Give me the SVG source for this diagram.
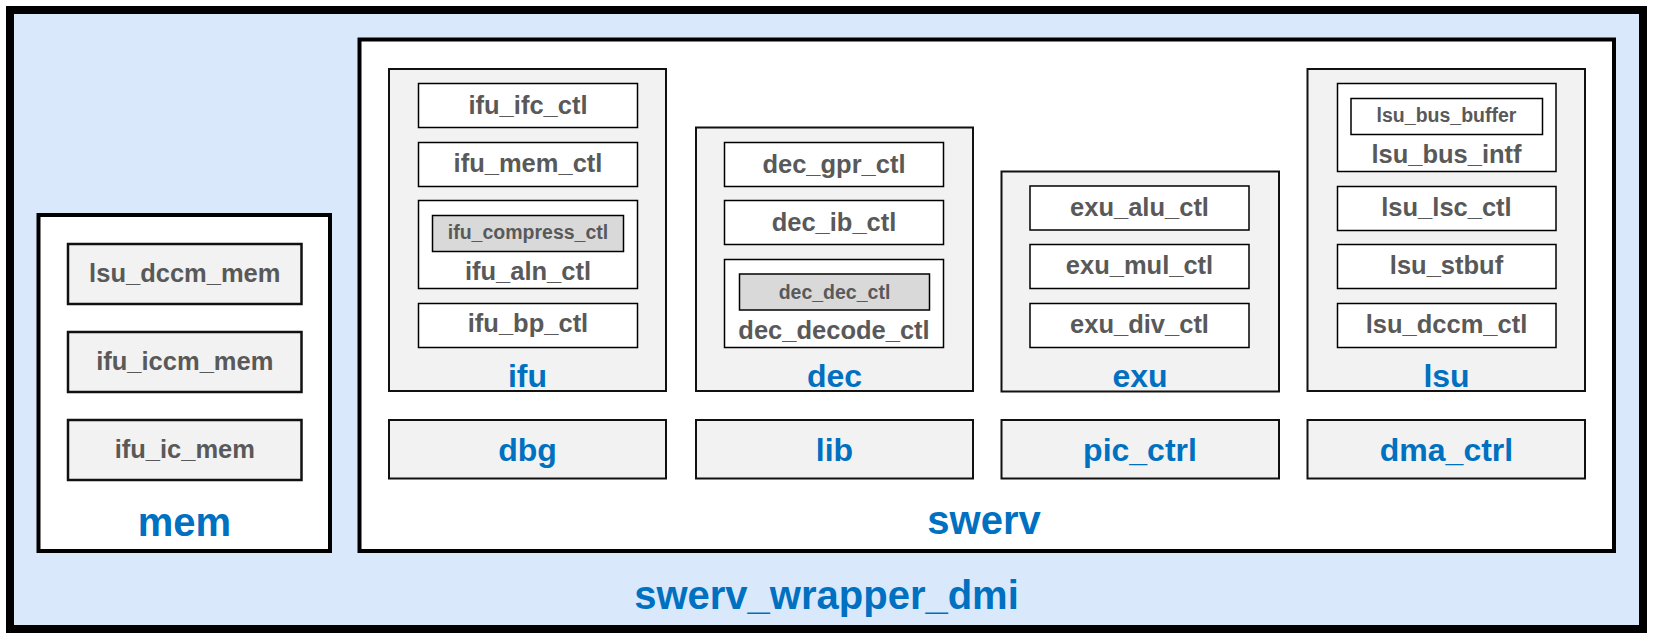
<svg xmlns="http://www.w3.org/2000/svg" width="1653" height="636" viewBox="0 0 1653 636">
<style>
.outer{fill:#dae8fc;stroke:#000;stroke-width:8}
.big{fill:#fff;stroke:#000;stroke-width:4}
.unit{fill:#f2f2f2;stroke:#111;stroke-width:2}
.mod{fill:#fff;stroke:#000;stroke-width:1.5}
.memmod{fill:#f2f2f2;stroke:#111;stroke-width:2.5}
.sub{fill:#d9d9d9;stroke:#000;stroke-width:1.5}
.subw{fill:#fff;stroke:#000;stroke-width:1.5}
text{font-family:"Liberation Sans",Arial,sans-serif;font-weight:bold;text-anchor:middle}
.t{fill:#595959;font-size:25.5px}
.ts{fill:#595959;font-size:19.5px}
.lb{fill:#0070c0;font-size:32px}
.lbb{fill:#0070c0;font-size:40px}
</style>
<g id="swerv_wrapper_dmi">
<rect class="outer" x="10" y="10" width="1633" height="619"/>
<text class="lbb" x="826.5" y="609">swerv_wrapper_dmi</text>
</g>
<g id="mem">
<rect class="big" x="38.5" y="215" width="291.5" height="336"/>
<text class="lbb" x="184.5" y="536">mem</text>
</g>
<g id="lsu_dccm_mem"><rect class="memmod" x="68" y="244" width="233.5" height="60"/><text class="t" x="184.8" y="282">lsu_dccm_mem</text></g>
<g id="ifu_iccm_mem"><rect class="memmod" x="68" y="332" width="233.5" height="60"/><text class="t" x="184.8" y="370">ifu_iccm_mem</text></g>
<g id="ifu_ic_mem"><rect class="memmod" x="68" y="420" width="233.5" height="60"/><text class="t" x="184.8" y="458">ifu_ic_mem</text></g>
<g id="swerv">
<rect class="big" x="359.5" y="39.5" width="1254.5" height="511.5"/>
<text class="lbb" x="984" y="534">swerv</text>
</g>
<g id="ifu">
<rect class="unit" x="389" y="69" width="277" height="322"/>
<text class="lb" x="527.5" y="386.5">ifu</text>
</g>
<g id="ifu_ifc_ctl"><rect class="mod" x="418.5" y="83.5" width="219" height="44"/><text class="t" x="528" y="113.5">ifu_ifc_ctl</text></g>
<g id="ifu_mem_ctl"><rect class="mod" x="418.5" y="142.5" width="219" height="44"/><text class="t" x="528" y="172">ifu_mem_ctl</text></g>
<g id="ifu_aln_ctl"><rect class="mod" x="418.5" y="200.5" width="219" height="88"/><text class="t" x="528" y="280">ifu_aln_ctl</text></g>
<g id="ifu_compress_ctl"><rect class="sub" x="432.5" y="215.5" width="191" height="36"/><text class="ts" x="528" y="239">ifu_compress_ctl</text></g>
<g id="ifu_bp_ctl"><rect class="mod" x="418.5" y="303.5" width="219" height="44"/><text class="t" x="528" y="332">ifu_bp_ctl</text></g>
<g id="dec">
<rect class="unit" x="696" y="127.5" width="277" height="263.5"/>
<text class="lb" x="834.5" y="386.5">dec</text>
</g>
<g id="dec_gpr_ctl"><rect class="mod" x="724.5" y="142.5" width="219" height="44"/><text class="t" x="834" y="172.5">dec_gpr_ctl</text></g>
<g id="dec_ib_ctl"><rect class="mod" x="724.5" y="200.5" width="219" height="44"/><text class="t" x="834" y="230.5">dec_ib_ctl</text></g>
<g id="dec_decode_ctl"><rect class="mod" x="724.5" y="259.5" width="219" height="88"/><text class="t" x="834" y="339">dec_decode_ctl</text></g>
<g id="dec_dec_ctl"><rect class="sub" x="739.5" y="274" width="190" height="36"/><text class="ts" x="834.5" y="298.5">dec_dec_ctl</text></g>
<g id="exu">
<rect class="unit" x="1001.5" y="171.5" width="277.5" height="220"/>
<text class="lb" x="1140" y="386.5">exu</text>
</g>
<g id="exu_alu_ctl"><rect class="mod" x="1030" y="186" width="219" height="44"/><text class="t" x="1139.5" y="215.5">exu_alu_ctl</text></g>
<g id="exu_mul_ctl"><rect class="mod" x="1030" y="244.5" width="219" height="44"/><text class="t" x="1139.5" y="274">exu_mul_ctl</text></g>
<g id="exu_div_ctl"><rect class="mod" x="1030" y="303.5" width="219" height="44"/><text class="t" x="1139.5" y="332.5">exu_div_ctl</text></g>
<g id="lsu">
<rect class="unit" x="1307.5" y="69" width="277.5" height="322"/>
<text class="lb" x="1446.5" y="386.5">lsu</text>
</g>
<g id="lsu_bus_intf"><rect class="mod" x="1337.5" y="83.5" width="218.5" height="88"/><text class="t" x="1446.5" y="162.5">lsu_bus_intf</text></g>
<g id="lsu_bus_buffer"><rect class="subw" x="1351" y="98.5" width="191.5" height="36"/><text class="ts" x="1446.5" y="121.5">lsu_bus_buffer</text></g>
<g id="lsu_lsc_ctl"><rect class="mod" x="1337.5" y="186.5" width="218.5" height="44"/><text class="t" x="1446.5" y="215.5">lsu_lsc_ctl</text></g>
<g id="lsu_stbuf"><rect class="mod" x="1337.5" y="244.5" width="218.5" height="44"/><text class="t" x="1446.5" y="274">lsu_stbuf</text></g>
<g id="lsu_dccm_ctl"><rect class="mod" x="1337.5" y="303.5" width="218.5" height="44"/><text class="t" x="1446.5" y="332.5">lsu_dccm_ctl</text></g>
<g id="dbg"><rect class="unit" x="389" y="420" width="277" height="58.5"/><text class="lb" x="527.5" y="460.5">dbg</text></g>
<g id="lib"><rect class="unit" x="696" y="420" width="277" height="58.5"/><text class="lb" x="834.5" y="460.5">lib</text></g>
<g id="pic_ctrl"><rect class="unit" x="1001.5" y="420" width="277.5" height="58.5"/><text class="lb" x="1140" y="460.5">pic_ctrl</text></g>
<g id="dma_ctrl"><rect class="unit" x="1307.5" y="420" width="277.5" height="58.5"/><text class="lb" x="1446.5" y="460.5">dma_ctrl</text></g>
<g id="connectors"></g>
</svg>
